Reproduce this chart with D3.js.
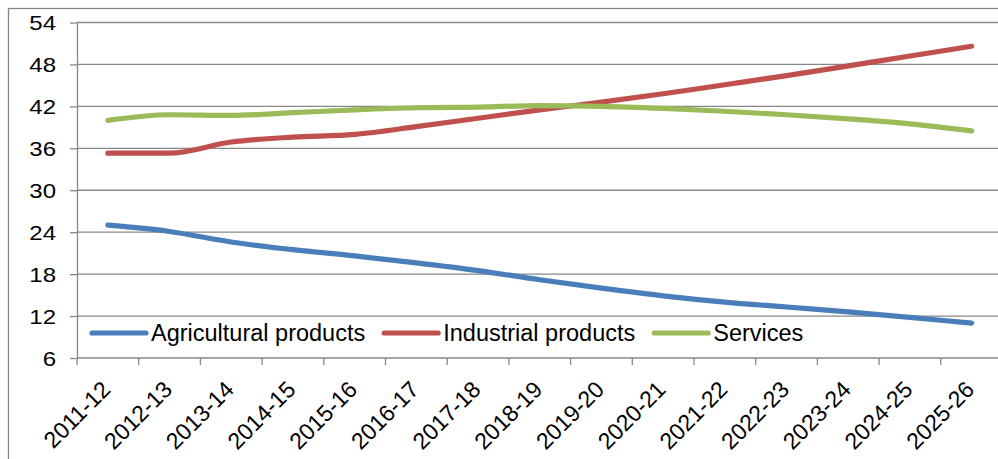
<!DOCTYPE html>
<html>
<head>
<meta charset="utf-8">
<script src="https://cdn.jsdelivr.net/npm/d3@7"></script>
<style>
  body { margin: 0; background: #fff; }
  svg { display: block; font-family: "Liberation Sans", Arial, sans-serif; }
</style>
</head>
<body>
<svg id="chart" width="998" height="459"></svg>
<script>
// Chart data.
const years = ["2011-12", "2012-13", "2013-14", "2014-15", "2015-16", "2016-17", "2017-18",
  "2018-19", "2019-20", "2020-21", "2021-22", "2022-23", "2023-24", "2024-25", "2025-26"];
const seriesNames = ["Agricultural products", "Industrial products", "Services"];
const agricultural = [25.0, 24.1, 22.6, 21.5, 20.6, 19.6, 18.5, 17.2, 16.0, 14.9, 14.0, 13.3, 12.6, 11.8, 11.0];
const industrial = [35.3, 35.3, 36.9, 37.6, 38.0, 39.1, 40.3, 41.5, 42.6, 43.8, 45.1, 46.4, 47.8, 49.2, 50.6];
const services = [40.0, 40.8, 40.7, 41.1, 41.5, 41.8, 41.9, 42.1, 42.0, 41.7, 41.3, 40.8, 40.2, 39.5, 38.5];
const yTicks = [6, 12, 18, 24, 30, 36, 42, 48, 54];

(function () {
  let svg = d3.select("#chart"),
    colors = ["#4a7ebb", "#c0504d", "#9bbb59"],
    gridColor = "#878787";

  // Outer chart frame (runs off the right and bottom edges).
  svg.append("rect")
    .attr("x", 8.5).attr("y", 8.5)
    .attr("width", 1000).attr("height", 460)
    .attr("fill", "none")
    .attr("stroke", gridColor)
    .attr("stroke-width", 1.3);

  // Plot area.
  let left = 77, top = 22.5, bottom = 358, bandW = 61.7;
  let x = d3.scaleBand().domain(years).range([left, left + bandW * years.length]);
  let y = d3.scaleLinear().domain([6, 54]).range([bottom, top]);

  // Horizontal gridlines.
  svg.append("g")
    .selectAll("line")
    .data(yTicks.filter((d) => d > 6))
    .enter().append("line")
    .attr("x1", left).attr("x2", 998)
    .attr("y1", (d) => y(d)).attr("y2", (d) => y(d))
    .attr("stroke", gridColor)
    .attr("stroke-width", 1.3);

  // Y axis.
  let yAxis = svg.append("g")
    .attr("transform", `translate(${left},0)`)
    .call(d3.axisLeft(y).tickValues(yTicks).tickSize(7).tickPadding(20).tickSizeOuter(0));
  yAxis.select(".domain").attr("stroke", gridColor).attr("stroke-width", 1.3);
  yAxis.selectAll(".tick line").attr("stroke", gridColor).attr("stroke-width", 1.3);
  yAxis.selectAll(".tick text")
    .attr("x", -21 / 1.2)
    .attr("dy", "0.36em")
    .attr("transform", "scale(1.2,1)")
    .attr("font-size", 20)
    .attr("font-family", "Liberation Sans, Arial, sans-serif")
    .attr("fill", "#000");

  // X axis: ticks at the band edges, labels turned 45 degrees.
  let xAxis = svg.append("g").attr("transform", `translate(0,${bottom})`);
  xAxis.append("line")
    .attr("x1", left).attr("x2", 998)
    .attr("stroke", gridColor).attr("stroke-width", 1.3);
  xAxis.selectAll("line.tick")
    .data(years)
    .enter().append("line")
    .attr("class", "tick")
    .attr("x1", (d) => x(d)).attr("x2", (d) => x(d))
    .attr("y1", 0).attr("y2", 7)
    .attr("stroke", gridColor).attr("stroke-width", 1.3);
  xAxis.selectAll("text")
    .data(years)
    .enter().append("text")
    .attr("transform", (d) => `translate(${x(d) + x.bandwidth() / 2 + 4},33) rotate(-45)`)
    .attr("text-anchor", "end")
    .attr("font-size", 23)
    .attr("fill", "#000")
    .text((d) => d);

  // Smoothed series lines.
  let line = d3.line()
    .x((d, i) => x(years[i]) + x.bandwidth() / 2)
    .y((d) => y(d))
    .curve(d3.curveMonotoneX);

  [agricultural, industrial, services].forEach((values, i) => {
    svg.append("path")
      .datum(values)
      .attr("d", line)
      .attr("fill", "none")
      .attr("stroke", colors[i])
      .attr("stroke-width", 5.2)
      .attr("stroke-linecap", "round")
      .attr("stroke-linejoin", "round");
  });

  // Legend inside the plot, along the bottom.
  let legend = svg.append("g").attr("transform", "translate(92,333)"),
    pos = 0;
  seriesNames.forEach((name, i) => {
    let item = legend.append("g").attr("transform", `translate(${pos},0)`);
    item.append("line")
      .attr("x1", 0).attr("x2", 54)
      .attr("stroke", colors[i])
      .attr("stroke-width", 5.2)
      .attr("stroke-linecap", "round");
    let label = item.append("text")
      .attr("x", 59)
      .attr("y", 8)
      .attr("font-size", 23.5)
      .attr("fill", "#000")
      .text(name);
    pos += 59 + label.node().getComputedTextLength() + 19;
  });
})();
</script>
</body>
</html>
